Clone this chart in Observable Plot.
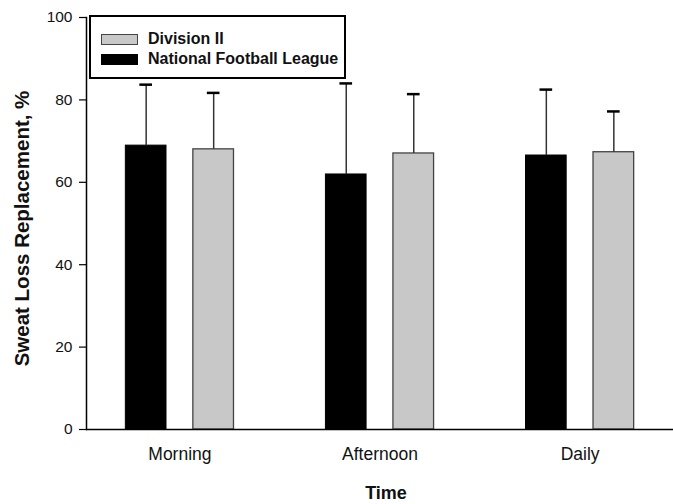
<!DOCTYPE html>
<html>
<head>
<meta charset="utf-8">
<script src="https://cdn.jsdelivr.net/npm/d3@7"></script>
<script src="https://cdn.jsdelivr.net/npm/@observablehq/plot@0.6"></script>
<style>
  html, body { margin: 0; padding: 0; background: #fff; }
  #wrap { position: relative; width: 673px; height: 504px; font-family: "Liberation Sans", Arial, sans-serif; }
  #legend { position: absolute; left: 89px; top: 15px; width: 257px; height: 64px; box-sizing: border-box;
            border: 2px solid #000; background: #fff; }
  .item { position: absolute; left: 10px; display: flex; align-items: center; font-weight: bold; font-size: 16px; color: #111; }
  .sw { width: 37px; height: 11px; box-sizing: border-box; margin-right: 10px; }
</style>
</head>
<body>
<div id="wrap"></div>
<script>
const times = ["Morning", "Afternoon", "Daily"];
const series = ["Division II", "National Football League"];
const nflMean = [68.9, 61.9, 66.5];
const nflErr = [14.8, 22.1, 16.0];
const div2Mean = [68.0, 67.0, 67.3];
const div2Err = [13.7, 14.4, 9.9];
const yTicks = [0, 20, 40, 60, 80, 100];

const nfl = times.map((t, i) => ({time: t, value: nflMean[i], hi: nflMean[i] + nflErr[i]}));
const div2 = times.map((t, i) => ({time: t, value: div2Mean[i], hi: div2Mean[i] + div2Err[i]}));

const colors = {nfl: "#000000", div2: "#c8c8c8"};
const off = 33.75;
const barInset = 39.7;
const capInset = 53.7;

const chart = Plot.plot({
  width: 673,
  height: 504,
  marginLeft: 86,
  marginRight: 0,
  marginTop: 17,
  marginBottom: 75,
  style: {fontFamily: "Liberation Sans, Arial, sans-serif", background: "#fff", color: "#111"},
  x: {type: "band", domain: times, paddingInner: 0.4, paddingOuter: 0.1669, round: false},
  y: {domain: [0, 100]},
  marks: [
    Plot.barY(nfl, {x: "time", y: "value", fill: colors.nfl, stroke: "#000", strokeWidth: 1, dx: -off, insetLeft: barInset, insetRight: barInset}),
    Plot.barY(div2, {x: "time", y: "value", fill: colors.div2, stroke: "#444", strokeWidth: 1.3, dx: off, insetLeft: barInset, insetRight: barInset}),
    Plot.ruleX(nfl, {x: "time", y1: "value", y2: "hi", stroke: "#333", strokeWidth: 1.5, dx: -off}),
    Plot.ruleX(div2, {x: "time", y1: "value", y2: "hi", stroke: "#333", strokeWidth: 1.5, dx: off}),
    Plot.tickY(nfl, {x: "time", y: "hi", stroke: "#000", strokeWidth: 2.5, dx: -off, insetLeft: capInset, insetRight: capInset}),
    Plot.tickY(div2, {x: "time", y: "hi", stroke: "#000", strokeWidth: 2.5, dx: off, insetLeft: capInset, insetRight: capInset}),
    Plot.axisY({ticks: yTicks, tickSize: 7, tickPadding: 7, fontSize: 15.5, label: null, stroke: "#000", strokeWidth: 1.2}),
    Plot.axisX({tickSize: 0, tickPadding: 18, fontSize: 17.5, label: null}),
    Plot.ruleY([0], {stroke: "#000", strokeWidth: 1.5}),
    Plot.frame({anchor: "left", stroke: "#000", strokeWidth: 1.5}),
    Plot.text(["Sweat Loss Replacement, %"], {frameAnchor: "left", textAnchor: "middle", lineAnchor: "middle", rotate: -90, dx: -64, dy: 5, fontSize: 20.5, fontWeight: "bold", fill: "#111"}),
    Plot.text(["Time"], {frameAnchor: "bottom", textAnchor: "middle", lineAnchor: "middle", dx: 6, dy: 64, fontSize: 18, fontWeight: "bold", fill: "#111"})
  ]
});
const wrap = document.getElementById("wrap");
wrap.appendChild(chart);

const legend = document.createElement("div");
legend.id = "legend";
const legendItems = [
  {label: series[0], fill: colors.div2, stroke: "#444", top: 13},
  {label: series[1], fill: colors.nfl, stroke: "#000", top: 33}
];
for (const it of legendItems) {
  const row = document.createElement("div");
  row.className = "item";
  row.style.top = it.top + "px";
  const sw = document.createElement("span");
  sw.className = "sw";
  sw.style.background = it.fill;
  sw.style.border = "1.3px solid " + it.stroke;
  row.appendChild(sw);
  const tx = document.createElement("span");
  tx.textContent = it.label;
  row.appendChild(tx);
  legend.appendChild(row);
}
wrap.appendChild(legend);
</script>
</body>
</html>
